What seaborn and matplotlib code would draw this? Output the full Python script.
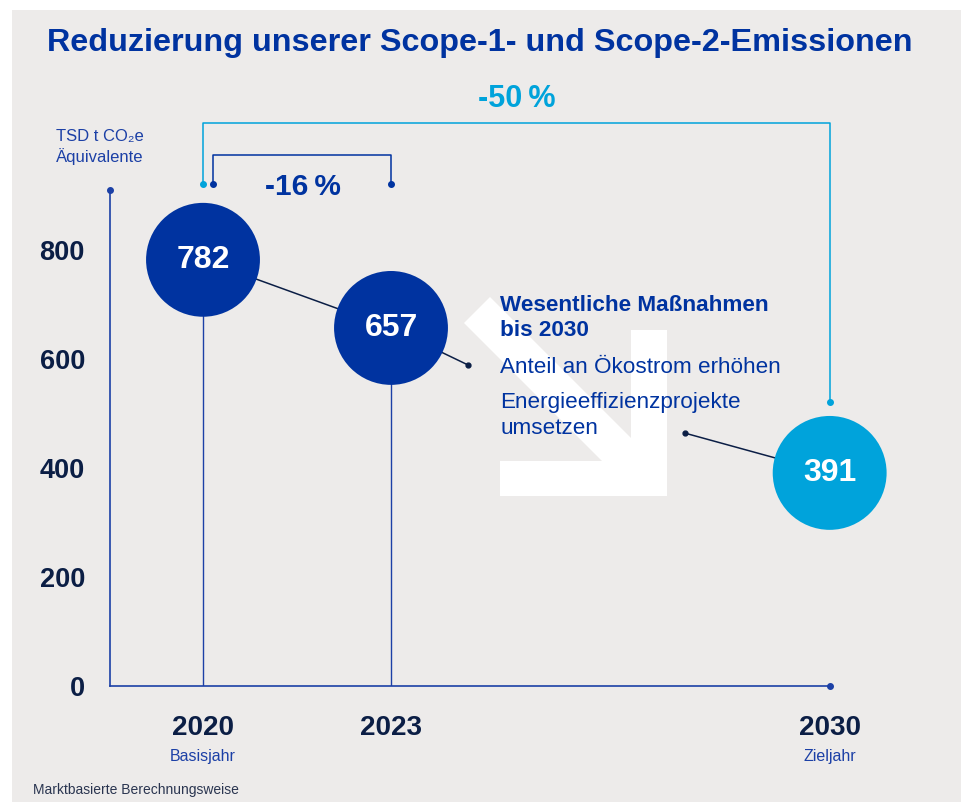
import matplotlib
matplotlib.use("Agg")
import matplotlib.pyplot as plt
from matplotlib.patches import Rectangle, Polygon
import pandas as pd
import seaborn as sns

# data
years = [2020, 2023, 2030]
emissions = [782, 657, 391]
kinds = ["ist", "ist", "ziel"]
year_sub = ["Basisjahr", "", "Zieljahr"]
y_ticks = [0, 200, 400, 600, 800]
change_short = "-16\u2009%"
change_long = "-50\u2009%"

DARK = "#0033A0"
LIGHT = "#00A3DB"
NAVY = "#0B1E45"
LINE = "#1C40A6"
BG = "#EDEBEA"

sns.set_theme(style="white")
plt.rcParams["font.family"] = ["Liberation Sans", "DejaVu Sans"]

W, H = 962, 802
fig = plt.figure(figsize=(W / 100, H / 100), dpi=100)
fig.patches.append(Rectangle((12 / W, 0), 1, (H - 10) / H, transform=fig.transFigure,
                             facecolor=BG, edgecolor="none", zorder=-10))

# axes placed so that x=110px is the y-axis and y=686px is zero
ax = fig.add_axes([110 / W, (H - 686) / H, 790 / W, 626 / H])
ax.set_facecolor("none")
px_x = 3 / 188
px_y = 1 / 0.545
ax.set_xlim(2020 - 93 * px_x, 2020 + 697 * px_x)
ax.set_ylim(0, 626 * px_y)

for s in ["top", "right"]:
    ax.spines[s].set_visible(False)
ax.spines["left"].set_bounds(0, 910)
ax.spines["bottom"].set_bounds(ax.get_xlim()[0], 2030)
for s in ["left", "bottom"]:
    ax.spines[s].set_color(LINE)
    ax.spines[s].set_linewidth(1.2)
ax.plot([ax.get_xlim()[0]], [910], "o", color=LINE, ms=4, clip_on=False)
ax.plot([2030], [0], "o", color=LINE, ms=4, clip_on=False)

ax.set_yticks(y_ticks)
ax.set_yticklabels([str(v) for v in y_ticks], fontsize=19.5, fontweight="bold", color=NAVY)
ax.tick_params(axis="y", length=0, pad=18)
ax.set_xticks(years)
ax.set_xticklabels([str(y) for y in years], fontsize=20, fontweight="bold", color=NAVY)
ax.tick_params(axis="x", length=0, pad=21)
for yr, sub in zip(years, year_sub):
    if sub:
        ax.text(yr, -130, sub, ha="center", va="center", fontsize=11.5, color=LINE)

# stems and connecting line
for yr, v, k in zip(years, emissions, kinds):
    if k == "ist":
        ax.plot([yr, yr], [0, v], color=LINE, lw=1, zorder=1)
ax.plot(years[:2], emissions[:2], color=NAVY, lw=1.1, zorder=1)

df = pd.DataFrame({"year": years, "value": emissions, "kind": kinds})
sns.scatterplot(data=df, x="year", y="value", hue="kind",
                palette={"ist": DARK, "ziel": LIGHT}, s=6724, linewidth=0,
                legend=False, ax=ax, zorder=3)
for yr, v in zip(years, emissions):
    ax.text(yr, v, str(v), ha="center", va="center", fontsize=23,
            fontweight="bold", color="white", zorder=4)
ax.set_xlabel("")
ax.set_ylabel("")

# brackets
y_dot = 921
ax.plot([2020, 2020, 2030, 2030], [y_dot, 1033, 1033, 521], color=LIGHT, lw=1.1, clip_on=False)
ax.plot([2020, 2030], [y_dot, 521], "o", color=LIGHT, ms=4, clip_on=False)
ax.text(2025.01, 1077, change_long, ha="center", va="center", fontsize=22,
        fontweight="bold", color=LIGHT)
ax.plot([2020.16, 2020.16, 2023, 2023], [y_dot, 974, 974, y_dot], color=DARK, lw=1.1)
ax.plot([2020.16, 2023], [y_dot, y_dot], "o", color=DARK, ms=4)
ax.text(2021.6, 915, change_short, ha="center", va="center", fontsize=21.5,
        fontweight="bold", color=DARK)

# white arrow in the background (pixel outline)
arrow_px = [(490, 297), (464, 323), (602, 461), (500, 461), (500, 496),
            (667, 496), (667, 330), (631, 330), (631, 438)]
fig.patches.append(Polygon([(x / W, 1 - y / H) for x, y in arrow_px], closed=True,
                           transform=fig.transFigure, facecolor="white",
                           edgecolor="none", zorder=-5))

# measures text and leader lines
ax.plot([2023, 2024.23], [657, 589], color=NAVY, lw=1.1, zorder=1)
ax.plot([2024.23], [589], "o", color=NAVY, ms=3.5)
ax.plot([2027.69, 2030], [464, 391], color=NAVY, lw=1.1, zorder=1)
ax.plot([2027.69], [464], "o", color=NAVY, ms=3.5)
tx = 2024.74
ax.text(tx, 676, "Wesentliche Maßnahmen\nbis 2030", ha="left", va="center",
        fontsize=16.2, fontweight="bold", color=DARK, linespacing=1.25)
ax.text(tx, 585, "Anteil an Ökostrom erhöhen", ha="left", va="center",
        fontsize=16.2, color=DARK)
ax.text(tx, 496, "Energieeffizienzprojekte\numsetzen", ha="left", va="center",
        fontsize=16.2, color=DARK, linespacing=1.3)

# header and notes
fig.text(47 / W, 1 - 43 / H, "Reduzierung unserer Scope-1- und Scope-2-Emissionen",
         ha="left", va="center", fontsize=23.3, fontweight="bold", color=DARK)
fig.text(56 / W, 1 - 147 / H, "TSD t CO₂e\nÄquivalente", ha="left", va="center",
         fontsize=12, color=LINE, linespacing=1.3)
fig.text(33 / W, 1 - 790 / H, "Marktbasierte Berechnungsweise", ha="left",
         va="center", fontsize=10, color="#2A3550")

fig.savefig("out.png", dpi=100, facecolor="white")
